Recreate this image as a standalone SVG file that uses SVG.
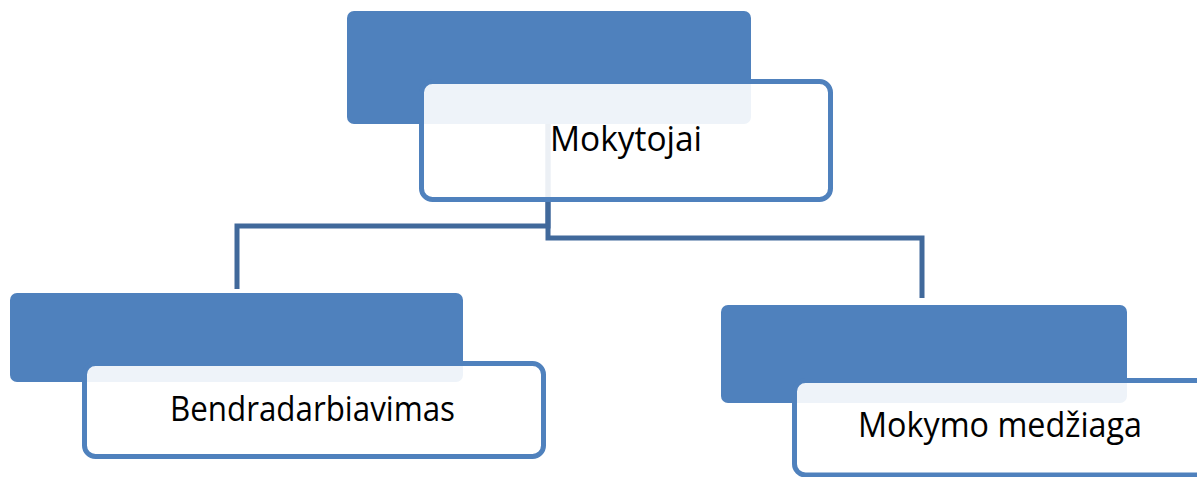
<svg xmlns="http://www.w3.org/2000/svg" width="1197" height="477" viewBox="0 0 1197 477">
<style>
.back{fill:#4F81BD;}
.front{fill:#FFFFFF;fill-opacity:0.9;stroke:#4F81BD;stroke-width:5;}
.conn{fill:none;stroke:#41699B;stroke-width:5;}
.label{font-family:"Open Sans","Liberation Sans",Arial,sans-serif;font-size:34px;fill:#000000;}
</style>
<rect width="1197" height="477" fill="#FFFFFF"/>
<g id="connectors">
<path class="conn" d="M548,67 V226 H237 V289"/>
<path class="conn" d="M548,67 V238 H922 V298"/>
</g>
<g id="node-mokytojai">
<rect class="back" x="347" y="11" width="404" height="113" rx="7"/>
<rect class="front" x="421.5" y="81.5" width="409" height="118" rx="11"/>
<text class="label" x="550" y="151" textLength="152" lengthAdjust="spacingAndGlyphs">Mokytojai</text>
</g>
<g id="node-bendradarbiavimas">
<rect class="back" x="10" y="293" width="453" height="89" rx="7"/>
<rect class="front" x="84.5" y="363.5" width="459" height="93" rx="11"/>
<text class="label" x="170" y="421" textLength="285" lengthAdjust="spacingAndGlyphs">Bendradarbiavimas</text>
</g>
<g id="node-mokymo-medziaga">
<rect class="back" x="721" y="305" width="406" height="98" rx="7"/>
<rect class="front" x="794.5" y="380.5" width="470" height="94.5" rx="11"/>
<text class="label" x="858" y="437" textLength="284" lengthAdjust="spacingAndGlyphs">Mokymo medžiaga</text>
</g>
</svg>
